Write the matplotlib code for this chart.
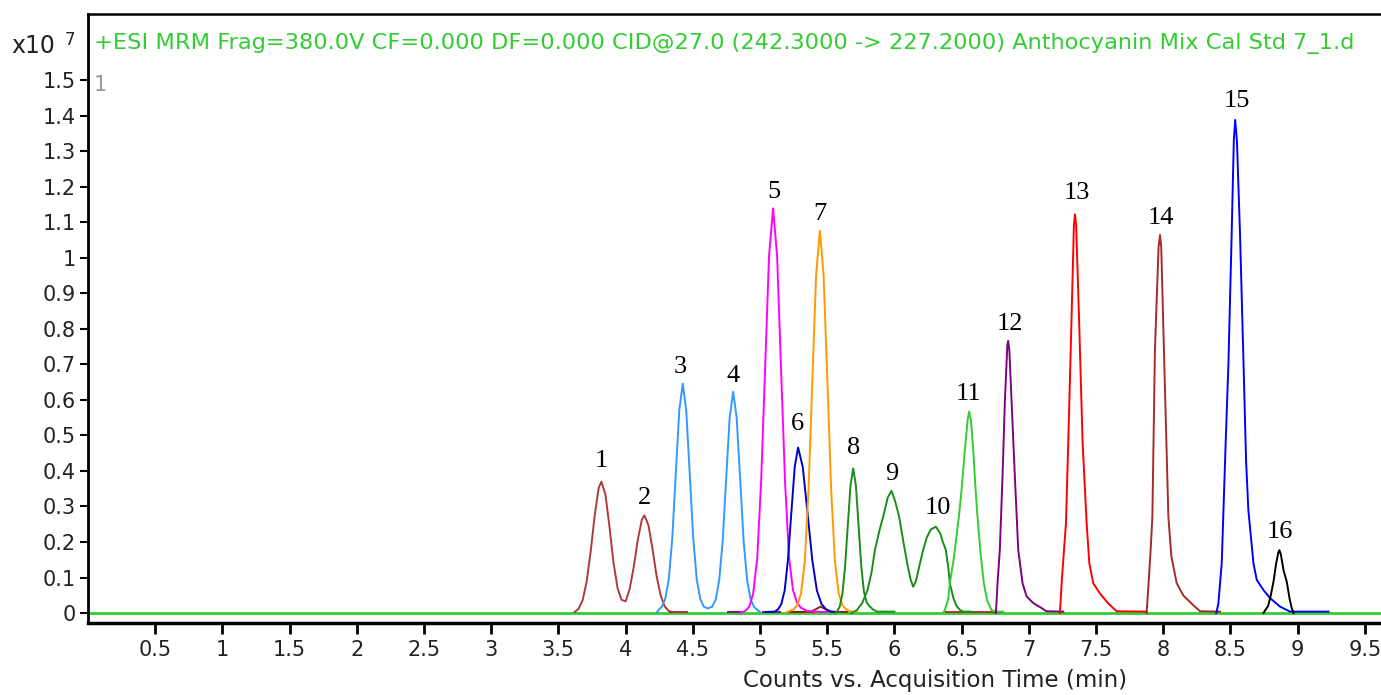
import matplotlib
matplotlib.use("Agg")
import matplotlib.pyplot as plt

# ---------------- data (intensity in units of 1e7 counts, time in min) ----------------
tA = [3.62, 3.65, 3.68, 3.71, 3.74, 3.77, 3.80, 3.82, 3.85, 3.88, 3.91, 3.94, 3.97, 4.00,
      4.03, 4.06, 4.09, 4.12, 4.14, 4.17, 4.20, 4.23, 4.26, 4.29, 4.32, 4.35, 4.45]
vA = [0.003, 0.012, 0.036, 0.089, 0.173, 0.275, 0.353, 0.370, 0.333, 0.242, 0.142, 0.070, 0.037, 0.033,
      0.068, 0.129, 0.205, 0.262, 0.275, 0.247, 0.180, 0.105, 0.050, 0.019, 0.006, 0.003, 0.003]

tB = [4.23, 4.243, 4.269, 4.295, 4.321, 4.347, 4.373, 4.399, 4.425, 4.451, 4.477, 4.503, 4.529, 4.555,
      4.581, 4.610, 4.644, 4.670, 4.696, 4.722, 4.748, 4.774, 4.800, 4.826, 4.852, 4.878, 4.904, 4.930,
      4.956, 4.982, 5.00]
vB = [0.000, 0.008, 0.018, 0.040, 0.095, 0.210, 0.392, 0.570, 0.646, 0.570, 0.392, 0.210, 0.095, 0.040,
      0.018, 0.013, 0.018, 0.038, 0.092, 0.202, 0.378, 0.550, 0.623, 0.550, 0.378, 0.202, 0.092, 0.038,
      0.017, 0.008, 0.003]

tC = [4.85, 4.890, 4.920, 4.949, 4.979, 5.008, 5.038, 5.067, 5.097, 5.127, 5.156, 5.186, 5.215, 5.245,
      5.274, 5.304, 5.35, 5.45, 5.50]
vC = [0.000, 0.006, 0.018, 0.055, 0.154, 0.370, 0.691, 1.005, 1.139, 1.005, 0.691, 0.370, 0.160, 0.065,
      0.030, 0.015, 0.006, 0.003, 0.003]

tD = [5.04, 5.108, 5.133, 5.158, 5.183, 5.208, 5.233, 5.258, 5.283, 5.318, 5.353, 5.388, 5.423, 5.458,
      5.493, 5.528, 5.56]
vD = [0.003, 0.004, 0.010, 0.025, 0.063, 0.151, 0.283, 0.411, 0.466, 0.411, 0.283, 0.151, 0.063, 0.025,
      0.010, 0.004, 0.003]

tE = [5.20, 5.249, 5.277, 5.305, 5.333, 5.361, 5.389, 5.417, 5.445, 5.473, 5.501, 5.529, 5.557, 5.585,
      5.613, 5.641, 5.68, 5.72]
vE = [0.003, 0.010, 0.022, 0.055, 0.146, 0.349, 0.653, 0.950, 1.076, 0.950, 0.653, 0.349, 0.146, 0.055,
      0.022, 0.010, 0.004, 0.003]

tF = [5.56, 5.573, 5.593, 5.613, 5.633, 5.653, 5.673, 5.693, 5.713, 5.733, 5.753, 5.773, 5.793, 5.813,
      5.84, 5.87, 6.00]
vF = [0.000, 0.005, 0.018, 0.055, 0.132, 0.247, 0.359, 0.407, 0.359, 0.247, 0.132, 0.060, 0.030, 0.020,
      0.010, 0.004, 0.004]

tG = [5.68, 5.72, 5.76, 5.80, 5.83, 5.855, 5.89, 5.916, 5.95, 5.978, 6.005, 6.035, 6.06, 6.077, 6.10,
      6.12, 6.139, 6.16, 6.19, 6.214, 6.24, 6.27, 6.308, 6.34, 6.36, 6.382, 6.40, 6.412, 6.44, 6.462,
      6.49, 6.511, 6.574]
vG = [0.000, 0.008, 0.028, 0.065, 0.115, 0.178, 0.235, 0.271, 0.325, 0.344, 0.315, 0.271, 0.215, 0.178,
      0.130, 0.095, 0.074, 0.090, 0.140, 0.178, 0.212, 0.235, 0.243, 0.225, 0.200, 0.178, 0.130, 0.084,
      0.040, 0.020, 0.008, 0.004, 0.004]

tH = [6.362, 6.375, 6.40, 6.412, 6.44, 6.46, 6.482, 6.50, 6.524, 6.545, 6.556, 6.57, 6.586, 6.60, 6.616,
      6.64, 6.665, 6.69, 6.722, 6.76, 6.809]
vH = [0.000, 0.008, 0.040, 0.084, 0.150, 0.210, 0.280, 0.350, 0.459, 0.545, 0.567, 0.540, 0.459, 0.370,
      0.280, 0.170, 0.084, 0.035, 0.008, 0.004, 0.004]

tI = [6.755, 6.767, 6.784, 6.804, 6.822, 6.840, 6.846, 6.855, 6.871, 6.896, 6.921, 6.953, 6.983, 7.033,
      7.095, 7.13, 7.256]
vI = [0.000, 0.084, 0.178, 0.383, 0.600, 0.755, 0.766, 0.740, 0.600, 0.383, 0.178, 0.084, 0.047, 0.028,
      0.014, 0.005, 0.004]

tJ = [7.231, 7.244, 7.260, 7.276, 7.293, 7.318, 7.335, 7.343, 7.352, 7.373, 7.400, 7.430, 7.450, 7.479,
      7.529, 7.591, 7.653, 7.876]
vJ = [0.000, 0.084, 0.170, 0.252, 0.478, 0.834, 1.090, 1.122, 1.090, 0.834, 0.478, 0.252, 0.140, 0.084,
      0.055, 0.027, 0.005, 0.004]

tK = [7.876, 7.890, 7.905, 7.919, 7.938, 7.965, 7.976, 7.985, 8.005, 8.038, 8.060, 8.100, 8.150, 8.224,
      8.274, 8.423]
vK = [0.000, 0.080, 0.170, 0.271, 0.740, 1.030, 1.064, 1.030, 0.740, 0.271, 0.160, 0.084, 0.049, 0.022,
      0.005, 0.004]

tL = [8.395, 8.410, 8.435, 8.448, 8.465, 8.485, 8.509, 8.525, 8.535, 8.548, 8.571, 8.596, 8.616, 8.633,
      8.671, 8.696, 8.745, 8.795, 8.869, 8.944, 9.23]
vL = [0.000, 0.027, 0.140, 0.290, 0.487, 0.703, 1.068, 1.330, 1.388, 1.330, 1.068, 0.720, 0.430, 0.290,
      0.140, 0.093, 0.065, 0.042, 0.018, 0.004, 0.004]

tM = [8.745, 8.78, 8.80, 8.82, 8.84, 8.856, 8.864, 8.875, 8.895, 8.919, 8.94, 8.955, 8.969]
vM = [0.000, 0.020, 0.050, 0.088, 0.140, 0.170, 0.177, 0.165, 0.120, 0.088, 0.040, 0.015, 0.000]

# small flat / minor traces near the baseline
minor_t = [[4.33, 4.46], [4.76, 4.86], [5.02, 5.15], [5.22, 5.40], [6.38, 6.80]]
minor_v = [[0.003, 0.003], [0.003, 0.003], [0.003, 0.003], [0.004, 0.004], [0.003, 0.003]]
minor_c = ["#800080", "#800080", "#800080", "#ff0000", "#a52a2a"]
bump_t = [5.22, 5.38, 5.42, 5.45, 5.48, 5.52, 5.65]
bump_v = [0.003, 0.004, 0.012, 0.018, 0.012, 0.004, 0.003]

traces = [
    (tA, vA, "#b03a3a"), (tB, vB, "#3399ff"), (tC, vC, "#ff00ff"), (tD, vD, "#0000cc"),
    (tE, vE, "#ff9900"), (tF, vF, "#1a8c1a"), (tG, vG, "#1a8c1a"), (tH, vH, "#33cc33"),
    (tI, vI, "#800080"), (tJ, vJ, "#ff0000"), (tK, vK, "#a52a2a"), (tL, vL, "#0000ff"),
    (tM, vM, "#000000"),
]

peak_labels = ["1", "2", "3", "4", "5", "6", "7", "8", "9", "10", "11", "12", "13", "14", "15", "16"]
label_t = [3.82, 4.142, 4.407, 4.802, 5.102, 5.279, 5.445, 5.693, 5.978, 6.32, 6.549, 6.859, 7.36, 7.983, 8.547, 8.864]
label_h = [0.411, 0.307, 0.675, 0.650, 1.168, 0.515, 1.106, 0.448, 0.374, 0.279, 0.600, 0.797, 1.166, 1.095, 1.424, 0.211]

yticks = [0, 0.1, 0.2, 0.3, 0.4, 0.5, 0.6, 0.7, 0.8, 0.9, 1.0, 1.1, 1.2, 1.3, 1.4, 1.5]
ytick_labels = ["0", "0.1", "0.2", "0.3", "0.4", "0.5", "0.6", "0.7", "0.8", "0.9", "1",
                "1.1", "1.2", "1.3", "1.4", "1.5"]
xticks = [0.5, 1, 1.5, 2, 2.5, 3, 3.5, 4, 4.5, 5, 5.5, 6, 6.5, 7, 7.5, 8, 8.5, 9, 9.5]
xtick_labels = ["0.5", "1", "1.5", "2", "2.5", "3", "3.5", "4", "4.5", "5", "5.5", "6", "6.5",
                "7", "7.5", "8", "8.5", "9", "9.5"]

title = "+ESI MRM Frag=380.0V CF=0.000 DF=0.000 CID@27.0 (242.3000 -> 227.2000) Anthocyanin Mix Cal Std 7_1.d"
xlabel = "Counts vs. Acquisition Time (min)"

# ---------------- figure ----------------
W, H = 1381, 695
fig = plt.figure(figsize=(W / 100, H / 100), dpi=100)
sans = ["DejaVu Sans"]
serif = ["Liberation Serif", "DejaVu Serif"]

left_px, bottom_px, top_px = 88, 623, 14
ax = fig.add_axes([left_px / W, (H - bottom_px) / H, 1 - left_px / W, (bottom_px - top_px) / H])
ax.set_xlim(0, 9.62)
ax.set_ylim(-0.028, 1.686)

ax.axhline(0, color="#33cc33", lw=2.0, zorder=1)
for mt, mv, mc in zip(minor_t, minor_v, minor_c):
    ax.plot(mt, mv, color=mc, lw=1.3, zorder=2)
ax.plot(bump_t, bump_v, color="#8b1a1a", lw=1.3, zorder=2)
for t, v, c in traces:
    ax.plot(t, v, color=c, lw=1.4, zorder=3)

for lab, lt, lh in zip(peak_labels, label_t, label_h):
    ax.text(lt, lh, lab, ha="center", va="baseline", fontsize=19, family=serif, color="black")

ax.set_xticks(xticks)
ax.set_xticklabels(xtick_labels, family=sans, fontsize=15)
ax.set_yticks(yticks)
ax.set_yticklabels(ytick_labels, family=sans, fontsize=15)
ax.tick_params(axis="y", direction="out", length=6, width=1.5, pad=3, colors="black")
ax.tick_params(axis="x", direction="out", length=8, width=2, pad=4, colors="black")
for lab in ax.get_xticklabels() + ax.get_yticklabels():
    lab.set_color("#222222")

ax.spines["right"].set_visible(False)
ax.spines["left"].set_linewidth(2.0)
ax.spines["bottom"].set_linewidth(2.5)
ax.spines["top"].set_linewidth(1.8)

fig.text(935 / W, 1 - 681 / H, xlabel, ha="center", va="center", fontsize=16.5, family=sans, color="#222222")
fig.text(94 / W, 1 - 44 / H, title, ha="left", va="center", fontsize=16.2, family=sans, color="#33cc33")
fig.text(11 / W, 1 - 46 / H, "x10", ha="left", va="center", fontsize=17, family=sans, color="#222222")
fig.text(65 / W, 1 - 40 / H, "7", ha="left", va="center", fontsize=12, family=sans, color="#222222")
fig.text(94 / W, 1 - 85 / H, "1", ha="left", va="center", fontsize=15, family=sans, color="#999999")

fig.savefig("out.png", dpi=100)
